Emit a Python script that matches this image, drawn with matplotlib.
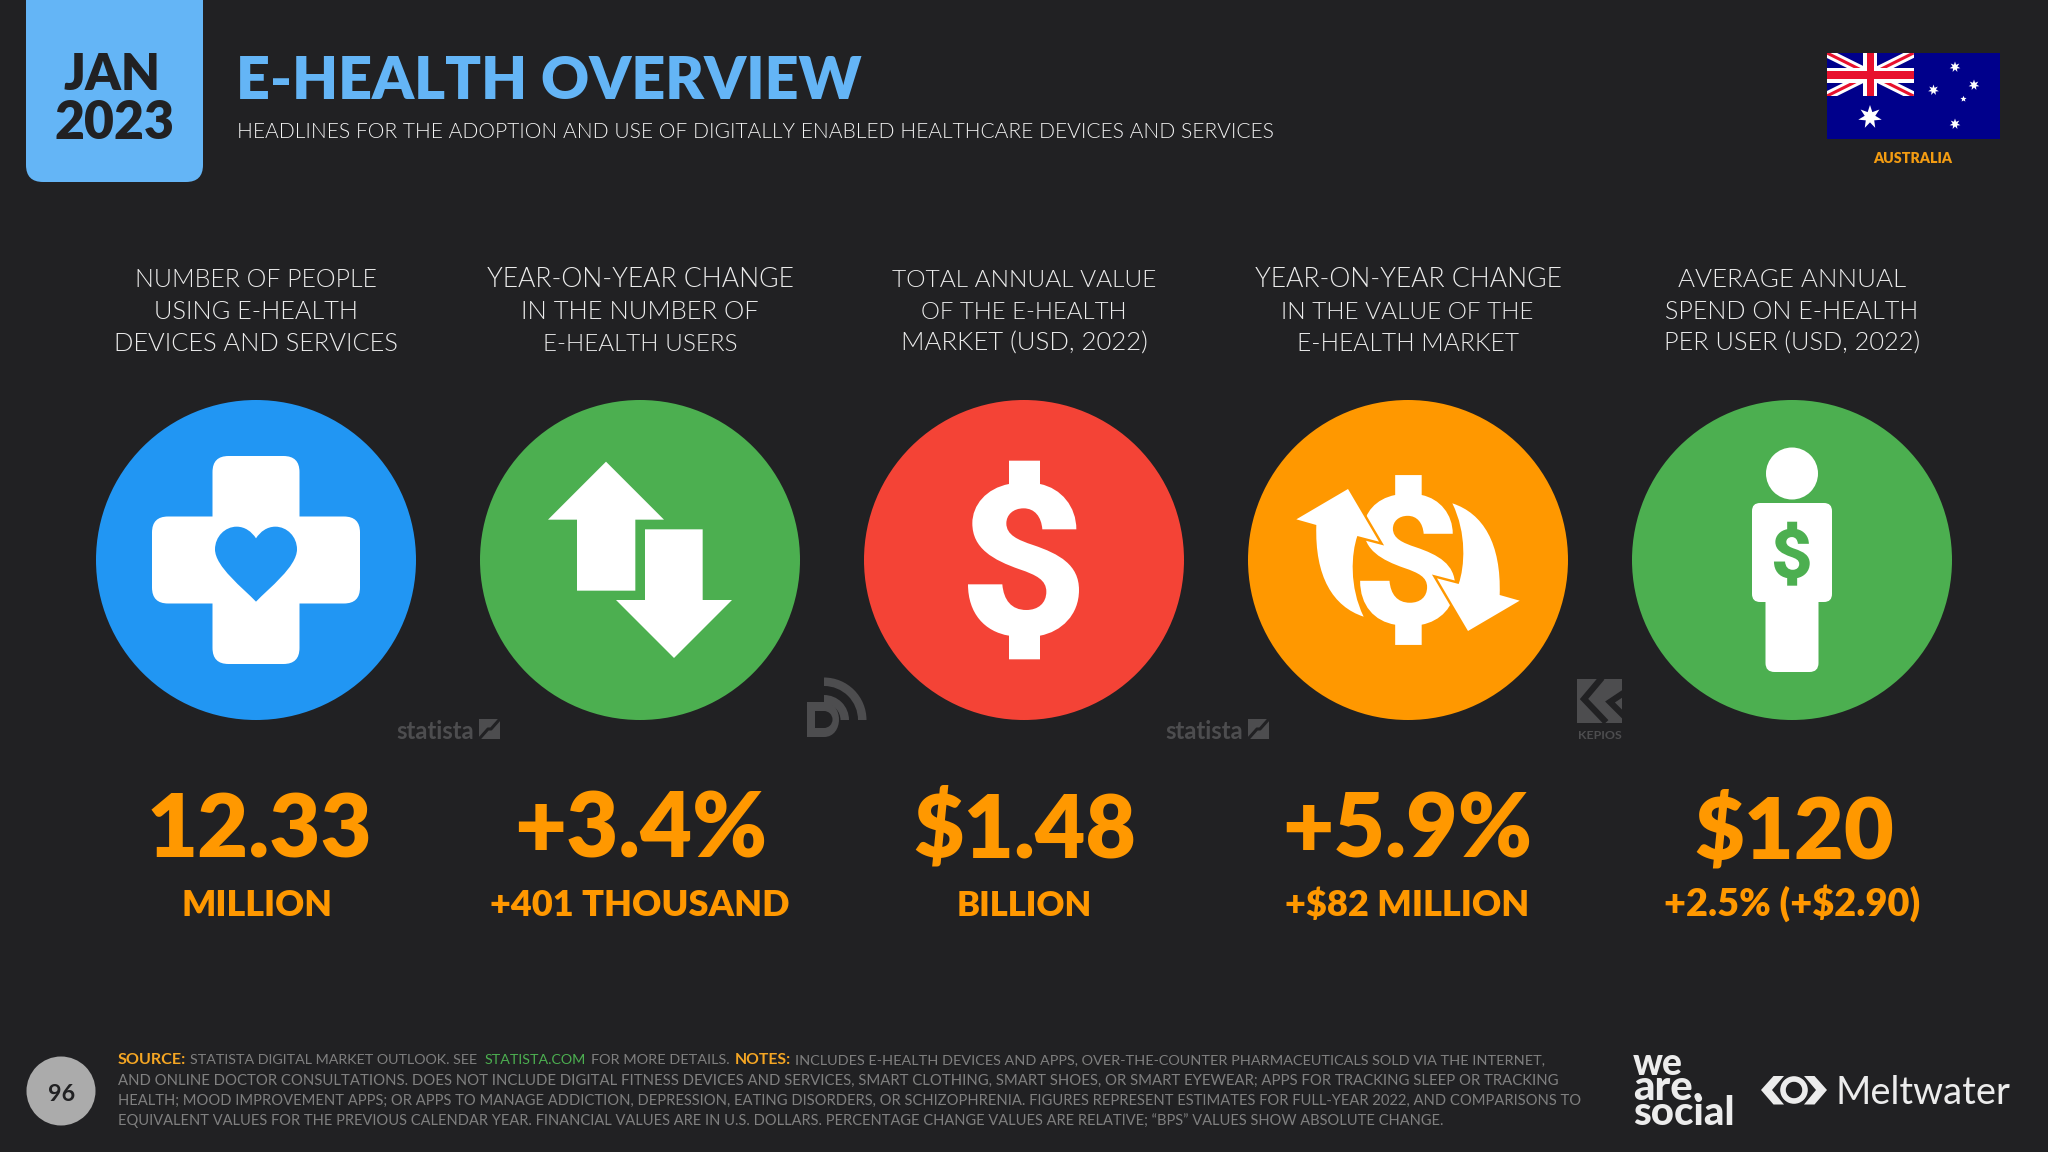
import matplotlib
matplotlib.use('Agg')
import matplotlib.pyplot as plt
import numpy as np
from matplotlib import font_manager
from matplotlib.patches import Circle, Rectangle, FancyBboxPatch, PathPatch, Polygon, Wedge
from matplotlib.path import Path
from matplotlib.transforms import Affine2D

# slide contents
month_label = 'JAN'
year_label = '2023'
title = 'E-HEALTH OVERVIEW'
subtitle = 'HEADLINES FOR THE ADOPTION AND USE OF DIGITALLY ENABLED HEALTHCARE DEVICES AND SERVICES'
country = 'AUSTRALIA'
page_number = '96'

column_headers = [
    ['NUMBER OF PEOPLE', 'USING E-HEALTH', 'DEVICES AND SERVICES'],
    ['YEAR-ON-YEAR CHANGE', 'IN THE NUMBER OF', 'E-HEALTH USERS'],
    ['TOTAL ANNUAL VALUE', 'OF THE E-HEALTH', 'MARKET (USD, 2022)'],
    ['YEAR-ON-YEAR CHANGE', 'IN THE VALUE OF THE', 'E-HEALTH MARKET'],
    ['AVERAGE ANNUAL', 'SPEND ON E-HEALTH', 'PER USER (USD, 2022)'],
]
big_values = ['12.33', '+3.4%', '$1.48', '+5.9%', '$120']
sub_values = ['MILLION', '+401 THOUSAND', 'BILLION', '+$82 MILLION', '+2.5% (+$2.90)']

note_line2 = 'AND ONLINE DOCTOR CONSULTATIONS. DOES NOT INCLUDE DIGITAL FITNESS DEVICES AND SERVICES, SMART CLOTHING, SMART SHOES, OR SMART EYEWEAR; APPS FOR TRACKING SLEEP OR TRACKING'
note_line3 = 'HEALTH; MOOD IMPROVEMENT APPS; OR APPS TO MANAGE ADDICTION, DEPRESSION, EATING DISORDERS, OR SCHIZOPHRENIA. FIGURES REPRESENT ESTIMATES FOR FULL-YEAR 2022, AND COMPARISONS TO'
note_line4 = 'EQUIVALENT VALUES FOR THE PREVIOUS CALENDAR YEAR. FINANCIAL VALUES ARE IN U.S. DOLLARS. PERCENTAGE CHANGE VALUES ARE RELATIVE; \u201cBPS\u201d VALUES SHOW ABSOLUTE CHANGE.'

# layout, all in reference pixels
header_spans = [
    [(135, 377), (154, 358), (114, 398)],
    [(487, 793), (521, 759), (543, 738)],
    [(891, 1157), (921, 1127), (901, 1148)],
    [(1255, 1561), (1281, 1534), (1298, 1518)],
    [(1678, 1907), (1665, 1918), (1664, 1920)],
]
big_spans = [(146, 372), (514, 767), (913, 1136), (1282, 1532), (1694, 1894)]
sub_spans = [(181, 332), (490, 789), (956, 1092), (1285, 1529), (1664, 1920)]
centers = [256, 640, 1024, 1408, 1792]
circle_colors = ['#2196F3', '#4CAF50', '#F44336', '#FF9800', '#4CAF50']

BG = '#212123'
ORANGE = '#FF9800'
SKY = '#64B5F6'
GREY = '#808080'
MARK = '#4d4d4f'
FONT = 'Lato'
installed = {f.name for f in font_manager.fontManager.ttflist}
NARROW = 'Liberation Sans Narrow' if 'Liberation Sans Narrow' in installed else FONT

fig = plt.figure(figsize=(20.48, 11.52), dpi=100, facecolor=BG)
ax = fig.add_axes([0, 0, 1, 1])
ax.set_xlim(0, 2048)
ax.set_ylim(1152, 0)
ax.axis('off')
renderer = fig.canvas.get_renderer()


def fit_text(x0, x1, y, s, color, weight='regular', family=FONT, size=30, left=False):
    # scale the font so the string covers x0..x1 on baseline y
    xpos = x0 if left else (x0 + x1) / 2
    t = ax.text(xpos, y, s, color=color, fontweight=weight, family=family, fontsize=size,
                ha='left' if left else 'center', va='baseline', parse_math=False)
    for i in range(2):
        w = t.get_window_extent(renderer).width
        size = size * (x1 - x0) / w
        t.set_fontsize(size)
    return t


def add_poly(pts, color, z=3, **kw):
    p = Polygon(pts, closed=True, facecolor=color, edgecolor=kw.pop('edge', 'none'), zorder=z, **kw)
    ax.add_patch(p)
    return p


def rounded(x0, y0, x1, y1, r, color, z=3):
    p = FancyBboxPatch((x0 + r, y0 + r), x1 - x0 - 2 * r, y1 - y0 - 2 * r,
                       boxstyle='round,pad=%f,rounding_size=%f' % (r, r),
                       facecolor=color, edgecolor='none', zorder=z)
    ax.add_patch(p)
    return p


def star(cx, cy, r, color, n=7, inner=0.45):
    ang = np.arange(2 * n) * np.pi / n - np.pi / 2
    rad = np.where(np.arange(2 * n) % 2 == 0, r, r * inner)
    add_poly(np.c_[cx + rad * np.cos(ang), cy + rad * np.sin(ang)], color, z=6)


# dollar outline traced from the red icon, centred on 0,0 (unit scale = 198px tall)
M, L, C, Z = Path.MOVETO, Path.LINETO, Path.CURVE4, Path.CLOSEPOLY
dollar_segs = [
    (M, [(238, 62)]), (L, [(331, 62)]), (L, [(331, 132)]),
    (C, [(395, 145), (440, 200), (440, 268)]), (L, [(338, 268)]),
    (C, [(335, 230), (315, 205), (282, 205)]), (C, [(250, 205), (230, 225), (230, 250)]),
    (C, [(230, 285), (265, 300), (310, 315)]), (C, [(390, 342), (448, 375), (448, 450)]),
    (C, [(448, 525), (395, 575), (331, 587)]), (L, [(331, 658)]), (L, [(238, 658)]), (L, [(238, 587)]),
    (C, [(165, 575), (115, 520), (115, 433)]), (L, [(218, 433)]),
    (C, [(222, 480), (245, 510), (290, 510)]), (C, [(325, 510), (350, 490), (350, 455)]),
    (C, [(350, 420), (320, 405), (270, 388)]), (C, [(190, 360), (128, 325), (128, 250)]),
    (C, [(128, 195), (170, 145), (238, 132)]), (Z, [(238, 62)]),
]
d_verts, d_codes = [], []
for code, pts in dollar_segs:
    for p in pts:
        d_verts.append(((p[0] - 283) / 3, (p[1] - 360) / 3))
        d_codes.append(code)
dollar_path = Path(d_verts, d_codes)


def dollar(cx, cy, scale, color, z=4):
    tr = Affine2D().scale(scale).translate(cx, cy)
    ax.add_patch(PathPatch(dollar_path.transformed(tr), facecolor=color, edgecolor='none', zorder=z))


# header
rounded(26, -30, 203, 182, 17, SKY, z=2)
fit_text(64, 161, 90, month_label, '#212123', 'heavy')
fit_text(54, 174, 139, year_label, '#212123', 'heavy')
fit_text(236, 861, 99, title, SKY, 'heavy')
fit_text(235, 1276, 138, subtitle, '#f4f4f4', 300)

# flag
ax.add_patch(Rectangle((1827, 53), 173, 86, facecolor='#00008B', edgecolor='none', zorder=3))
canton = Rectangle((1827, 53), 86.5, 43, transform=ax.transData)
for xs, ys in [((1827, 1913.5), (53, 96)), ((1827, 1913.5), (96, 53))]:
    for col, lw in (('white', 6.5), ('#E8112D', 2.2)):
        ln, = ax.plot(xs, ys, color=col, lw=lw, zorder=4, solid_capstyle='butt')
        ln.set_clip_box(ax.transData.transform_bbox(canton.get_bbox()))
        ln.set_clip_path(None)
ax.add_patch(Rectangle((1863, 53), 14, 43, facecolor='white', zorder=5))
ax.add_patch(Rectangle((1827, 67.5), 86.5, 15, facecolor='white', zorder=5))
ax.add_patch(Rectangle((1866.5, 53), 7.5, 43, facecolor='#E8112D', zorder=5))
ax.add_patch(Rectangle((1827, 71), 86.5, 8, facecolor='#E8112D', zorder=5))
star(1870, 117, 12, 'white')
star(1955, 67, 5.5, 'white')
star(1974, 85, 5.5, 'white')
star(1933.5, 90, 5.5, 'white')
star(1963.5, 99, 3.2, 'white', n=5)
star(1955, 124, 5.5, 'white')
fit_text(1873, 1952, 163, country, '#F39C12', 'heavy')

# column headers and figures
for col in range(5):
    for line, span, base in zip(column_headers[col], header_spans[col], (287, 319, 351)):
        fit_text(span[0], span[1], base, line, '#ececec', 300)
    fit_text(big_spans[col][0], big_spans[col][1], 858, big_values[col], ORANGE, 'heavy')
    fit_text(sub_spans[col][0], sub_spans[col][1], 916, sub_values[col], ORANGE, 'heavy')
    ax.add_patch(Circle((centers[col], 560), 160, facecolor=circle_colors[col], edgecolor='none', zorder=2))

# blue icon: cross with heart
rounded(256 - 43.5, 560 - 104, 256 + 43.5, 560 + 104, 16, 'white')
rounded(256 - 104, 560 - 43.5, 256 + 104, 560 + 43.5, 16, 'white')
half = [(0, 125), (-38, 85), (-123, 20), (-123, -32), (-123, -70), (-93, -100), (-58, -100),
        (-33, -100), (-13, -85), (0, -65)]
heart_pts = half + [(-x, y) for x, y in half[-2::-1]]
heart_codes = [M] + [C] * (len(heart_pts) - 1)
heart = Path([(256 + x / 3, 560 + y / 3) for x, y in heart_pts], heart_codes)
ax.add_patch(PathPatch(heart, facecolor=circle_colors[0], edgecolor='none', zorder=4))

# green icon: up and down arrows (zoom units around 510,510)
up_arrow = [(408, 215), (582, 389), (496, 389), (496, 602), (321, 602), (321, 389), (234, 389)]
down_arrow = [(525, 418), (698, 418), (698, 630), (786, 630), (612, 804), (438, 630), (525, 630)]
for arrow in (up_arrow, down_arrow):
    add_poly([(640 + (x - 510) / 3, 560 + (y - 510) / 3) for x, y in arrow], 'white')

# red icon
dollar(1024, 560, 1.0, 'white')

# orange icon: dollar with two curved arrows on top, orange halo first so the gap stays
dollar(1408, 560, 0.855, 'white')
arrow_pts = [(385, 297), (478, 455), (413, 438), (395, 490), (388, 590), (432, 680),
             (340, 650), (285, 560), (290, 405), (230, 388), (385, 297)]
arrow_codes = [M, L, L, C, C, C, C, C, L, L, Z]
for flip in (1, -1):
    verts = [(1408 + flip * (x - 565) / 3, 560 + flip * (y - 510) / 3) for x, y in arrow_pts]
    ax.add_patch(PathPatch(Path(verts, arrow_codes), facecolor=circle_colors[3], edgecolor=circle_colors[3],
                           lw=3.5, zorder=5, joinstyle='miter'))
for flip in (1, -1):
    verts = [(1408 + flip * (x - 565) / 3, 560 + flip * (y - 510) / 3) for x, y in arrow_pts]
    ax.add_patch(PathPatch(Path(verts, arrow_codes), facecolor='white', edgecolor='none', zorder=6))

# person icon
ax.add_patch(Circle((1792, 473.5), 26, facecolor='white', edgecolor='none', zorder=3))
rounded(1752, 503, 1832, 602, 8, 'white')
rounded(1765.5, 590, 1818.5, 672, 9, 'white')
dollar(1792, 553.7, 0.322, circle_colors[4])

# watermarks
for x0 in (396, 1165):
    fit_text(x0, x0 + 78, 739, 'statista', MARK, 'bold', family=NARROW)
    ax.add_patch(Rectangle((x0 + 83, 719), 21, 20, facecolor=MARK, edgecolor='none', zorder=1))
    ax.plot([x0 + 84, x0 + 92, x0 + 95, x0 + 103], [738, 729, 729, 720], color=BG, lw=2.2, zorder=1.5)

# datareportal mark
ax.add_patch(Wedge((824, 720), 42.5, 270, 360, width=8.5, facecolor=MARK, edgecolor='none'))
ax.add_patch(Wedge((824, 720), 25, 270, 360, width=8.5, facecolor=MARK, edgecolor='none'))
d_out = Path([(807, 702), (824, 702), (844, 702), (844, 737), (824, 737), (807, 737), (807, 702)],
             [M, L, C, C, L, L, Z])
ax.add_patch(PathPatch(d_out, facecolor=MARK, edgecolor='none'))
ax.add_patch(Rectangle((815, 711), 9, 17, facecolor=BG, edgecolor='none', zorder=1.5))
ax.add_patch(Circle((824, 719.5), 8.5, facecolor=BG, edgecolor='none', zorder=1.5))

# kepios mark
ax.add_patch(Rectangle((1577, 679), 45, 44, facecolor=MARK, edgecolor='none', zorder=1))
ax.plot([1600, 1584, 1604], [680, 699, 720], color=BG, lw=4.5, zorder=1.5, solid_joinstyle='miter')
ax.plot([1622, 1610, 1622], [694, 702, 714], color=BG, lw=4.5, zorder=1.5, solid_joinstyle='miter')
fit_text(1578, 1622, 739, 'KEPIOS', MARK, 'bold')

# footer
ax.add_patch(Circle((61, 1091), 34.5, facecolor='#ababab', edgecolor='none'))
fit_text(48, 75, 1101, page_number, '#212123', 'bold')
fit_text(118, 186, 1064, 'SOURCE:', '#F5A623', 'bold', left=True)
fit_text(190, 480, 1064, 'STATISTA DIGITAL MARKET OUTLOOK. SEE', GREY, left=True)
fit_text(485, 587, 1064, 'STATISTA.COM', '#4CAF50', left=True)
fit_text(591, 729, 1064, 'FOR MORE DETAILS.', GREY, left=True)
fit_text(735, 791, 1064, 'NOTES:', '#F5A623', 'bold', left=True)
fit_text(795, 1547, 1064, 'INCLUDES E-HEALTH DEVICES AND APPS, OVER-THE-COUNTER PHARMACEUTICALS SOLD VIA THE INTERNET,', GREY, left=True)
fit_text(118, 1552, 1085, note_line2, GREY, left=True)
fit_text(118, 1581, 1105, note_line3, GREY, left=True)
fit_text(118, 1438, 1125, note_line4, GREY, left=True)

# partner logos
fit_text(1633, 1683, 1075, 'we', '#ececec', 'black')
fit_text(1633, 1703, 1100, 'are.', '#ececec', 'black')
fit_text(1633, 1735, 1125, 'social', '#ececec', 'black')
add_poly([(1761, 1090), (1773.5, 1076), (1784, 1076), (1772, 1090), (1784, 1104.5), (1773.5, 1104.5)], '#ececec')
add_poly([(1827, 1090), (1814.5, 1076), (1804, 1076), (1816, 1090), (1804, 1104.5), (1814.5, 1104.5)], '#ececec')
ax.add_patch(Wedge((1794, 1090), 14.5, 0, 360, width=7, facecolor='#ececec', edgecolor=BG, lw=1, zorder=4))
fit_text(1835, 2010, 1104, 'Meltwater', '#ececec', 'regular')

fig.savefig('out.png', dpi=100, facecolor=BG)
